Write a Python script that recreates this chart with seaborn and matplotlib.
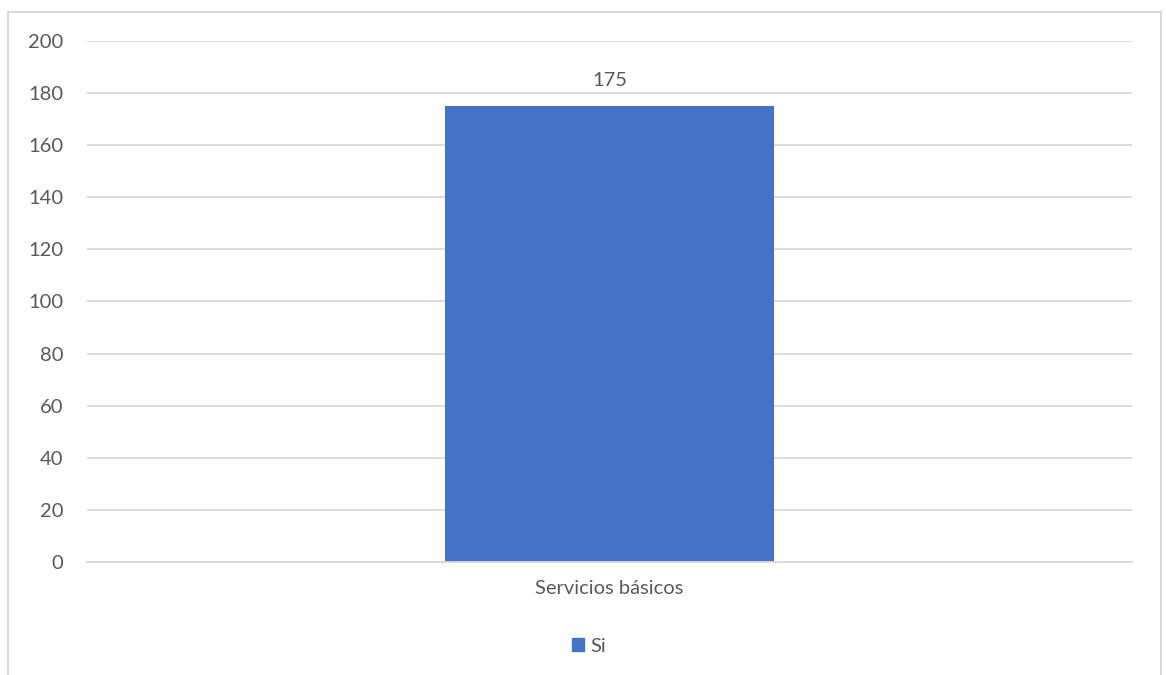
import matplotlib
matplotlib.use("Agg")
import matplotlib.pyplot as plt
import matplotlib.patches as mpatches
import seaborn as sns
import pandas as pd

categories = ["Servicios básicos"]
series_name = "Si"
values = [175]
y_ticks = [0, 20, 40, 60, 80, 100, 120, 140, 160, 180, 200]

sns.set_theme(style="white")
plt.rcParams["font.family"] = ["Lato", "DejaVu Sans"]

text_color = "#595959"
grid_color = "#D9D9D9"
bar_color = "#4472C4"
fs = 14.5

df = pd.DataFrame({"categoria": categories, "valor": values, "serie": series_name})

fig = plt.figure(figsize=(11.66, 6.75), dpi=100)
ax = fig.add_axes([0.0746, 0.1674, 0.8962, 0.7719])

sns.barplot(data=df, x="categoria", y="valor", hue="serie",
            palette=[bar_color], width=0.315, saturation=1,
            linewidth=0, legend=False, ax=ax)

ax.set_ylim(0, 200)
ax.set_xlim(-0.5, 0.5)
ax.set_yticks(y_ticks)
ax.yaxis.grid(True, color=grid_color, linewidth=1.3)
ax.set_axisbelow(True)
for s in ["top", "right", "left"]:
    ax.spines[s].set_visible(False)
ax.spines["bottom"].set_color(grid_color)
ax.spines["bottom"].set_linewidth(1.3)
ax.tick_params(axis="both", length=0, labelsize=fs, colors=text_color)
ax.tick_params(axis="y", pad=17)
ax.tick_params(axis="x", pad=13)
ax.set_xlabel("")
ax.set_ylabel("")

for cont in ax.containers:
    ax.bar_label(cont, labels=[str(v) for v in values], padding=12,
                 fontsize=fs, color=text_color)

# outer chart frame
frame = mpatches.Rectangle((8 / 1166, -0.02), (1161 - 8) / 1166, 1.02 - 12 / 675,
                           transform=fig.transFigure, fill=False,
                           edgecolor="#D9D9D9", linewidth=1.5)
fig.patches.append(frame)

handle = mpatches.Patch(color=bar_color, label=series_name)
fig.legend(handles=[handle], loc="center", bbox_to_anchor=(589 / 1166, 1 - 646 / 675),
           frameon=False, fontsize=fs, labelcolor=text_color,
           handlelength=0.6, handleheight=0.6, handletextpad=0.3)

fig.savefig("out.png", dpi=100, facecolor="white")
